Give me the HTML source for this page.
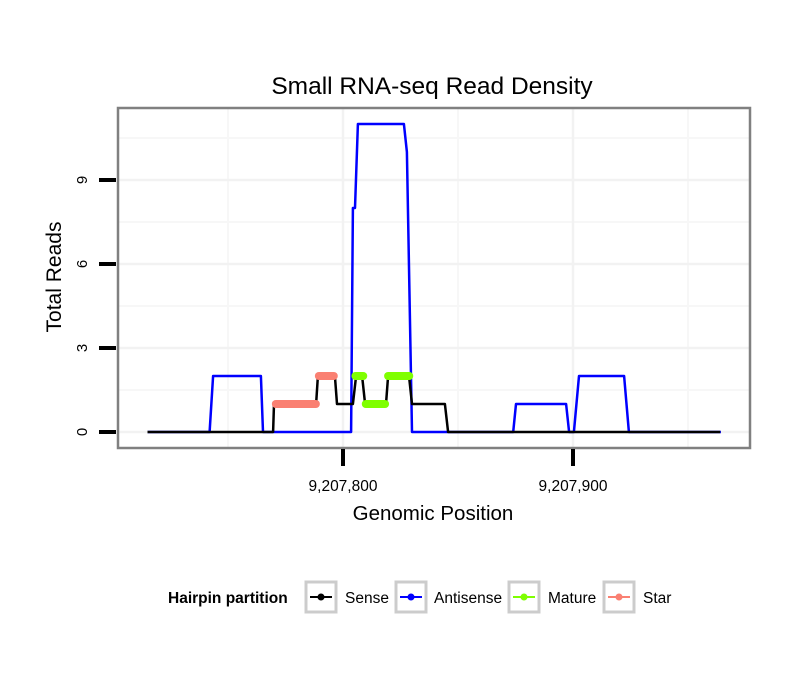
<!DOCTYPE html>
<html><head><meta charset="utf-8">
<style>
html,body{margin:0;padding:0;background:#fff;}
svg{display:block;font-family:"Liberation Sans",Arial,sans-serif;}
</style></head>
<body>
<svg id="chart" width="810" height="690" viewBox="0 0 810 690">
  <rect x="0" y="0" width="810" height="690" fill="#fff"/>
  <text x="432" y="94" font-size="24.5" text-anchor="middle" fill="#000">Small RNA-seq Read Density</text>
  <g id="grid"></g>
  <g id="series"></g>
  <rect x="118" y="108" width="632" height="340" fill="none" stroke="#808080" stroke-width="2.5"/>
  <g id="axes"></g>
  <text x="433" y="520" font-size="20.5" text-anchor="middle">Genomic Position</text>
  <text transform="translate(61,277) rotate(-90)" font-size="21" text-anchor="middle">Total Reads</text>
  <g>
    <text x="168" y="603" font-size="15.5" font-weight="bold">Hairpin partition</text>
    <g>
      <rect x="306" y="582" width="30" height="30" fill="#fff" stroke="#cccccc" stroke-width="3"/>
      <line x1="310" y1="597" x2="332" y2="597" stroke="#000" stroke-width="2"/><circle cx="321" cy="597" r="3.5" fill="#000"/>
      <text x="345" y="603" font-size="15.5">Sense</text>
    </g>
    <g>
      <rect x="396" y="582" width="30" height="30" fill="#fff" stroke="#cccccc" stroke-width="3"/>
      <line x1="400" y1="597" x2="422" y2="597" stroke="#0000ff" stroke-width="2"/><circle cx="411" cy="597" r="3.5" fill="#0000ff"/>
      <text x="434" y="603" font-size="15.5">Antisense</text>
    </g>
    <g>
      <rect x="509" y="582" width="30" height="30" fill="#fff" stroke="#cccccc" stroke-width="3"/>
      <line x1="513" y1="597" x2="535" y2="597" stroke="#7fff00" stroke-width="2"/><circle cx="524" cy="597" r="3.5" fill="#7fff00"/>
      <text x="548" y="603" font-size="15.5">Mature</text>
    </g>
    <g>
      <rect x="604" y="582" width="30" height="30" fill="#fff" stroke="#cccccc" stroke-width="3"/>
      <line x1="608" y1="597" x2="630" y2="597" stroke="#fa8072" stroke-width="2"/><circle cx="619" cy="597" r="3.5" fill="#fa8072"/>
      <text x="643" y="603" font-size="15.5">Star</text>
    </g>
  </g>
</svg>
<script>
const xTicks = [9207800, 9207900];
const xTickLabels = ["9,207,800", "9,207,900"];
const xMinorGrid = [9207750, 9207850, 9207950];
const yTicks = [0, 3, 6, 9];
const yTickLabels = ["0", "3", "6", "9"];
const yMinorGrid = [1.5, 4.5, 7.5, 10.5];

const antisenseX = [9207715,9207742,9207743.5,9207764.3,9207765.2,9207803.5,9207804.3,9207805.2,9207806.5,9207826.5,9207827.8,9207830,9207874,9207875.2,9207897,9207898.3,9207900.4,9207902.6,9207922.2,9207924.3,9207964.3];
const antisenseY = [0,0,2,2,0,0,8,8,11,11,10,0,0,1,1,0,0,2,2,0,0];
const senseX = [9207715,9207769.6,9207770,9207788.3,9207789.1,9207796.5,9207797.4,9207804.3,9207805.7,9207808.3,9207809.6,9207818.7,9207819.6,9207828.7,9207830,9207844.3,9207845.7,9207964];
const senseY = [0,0,1,1,2,2,1,1,2,2,1,1,2,2,1,1,0,0];
const starStart = [9207770.8, 9207789.5];
const starEnd = [9207788.2, 9207796.0];
const starY = [1, 2];
const matureStart = [9207805.4, 9207809.9, 9207819.6];
const matureEnd = [9207808.8, 9207818.3, 9207828.8];
const matureY = [2, 1, 2];

const NS = "http://www.w3.org/2000/svg";
function sx(v){ return 343 + (v - 9207800) * 2.3; }
function sy(v){ return 432 - v * 28; }
function mk(tag, attrs, parent){
  const el = document.createElementNS(NS, tag);
  for (const k in attrs) el.setAttribute(k, attrs[k]);
  parent.appendChild(el);
  return el;
}
const grid = document.getElementById('grid');
const series = document.getElementById('series');
const axes = document.getElementById('axes');

yMinorGrid.forEach(v => {
  const l = mk('line', {x1:119, x2:749, y1:sy(v), y2:sy(v), stroke:'#f7f7f7', 'stroke-width':2}, grid);
  
  
});
xMinorGrid.forEach(v => {
  const l = mk('line', {x1:sx(v), x2:sx(v), y1:109, y2:447, stroke:'#f7f7f7', 'stroke-width':2}, grid);
  
  
});
yTicks.forEach(v => {
  const l = mk('line', {x1:119, x2:749, y1:sy(v), y2:sy(v), stroke:'#f2f2f2', 'stroke-width':2.5}, grid);
  
  
});
xTicks.forEach(v => {
  const l = mk('line', {x1:sx(v), x2:sx(v), y1:109, y2:447, stroke:'#f2f2f2', 'stroke-width':2.5}, grid);
  
  
});

function pathOf(xs, ys){ return xs.map((x,i)=>(i?'L':'M')+sx(x).toFixed(1)+','+sy(ys[i]).toFixed(1)).join(''); }
const pa = mk('path', {d:pathOf(antisenseX, antisenseY), fill:'none', stroke:'#0000ff', 'stroke-width':2.5, 'stroke-linejoin':'round'}, series);


const ps = mk('path', {d:pathOf(senseX, senseY), fill:'none', stroke:'#000', 'stroke-width':2.5, 'stroke-linejoin':'round'}, series);


starStart.forEach((s,i) => {
  const l = mk('line', {x1:sx(s), x2:sx(starEnd[i]), y1:sy(starY[i]), y2:sy(starY[i]), stroke:'#fa8072', 'stroke-width':8, 'stroke-linecap':'round'}, series);
  
  
});
matureStart.forEach((s,i) => {
  const l = mk('line', {x1:sx(s), x2:sx(matureEnd[i]), y1:sy(matureY[i]), y2:sy(matureY[i]), stroke:'#7fff00', 'stroke-width':8, 'stroke-linecap':'round'}, series);
  
  
});

yTicks.forEach((v,i) => {
  const t = mk('line', {x1:99, x2:116, y1:sy(v), y2:sy(v), stroke:'#000', 'stroke-width':4}, axes);
  
  
  const lb = mk('text', {transform:'translate('+87+','+sy(v)+') rotate(-90)', 'font-size':15, 'text-anchor':'middle'}, axes);
  lb.textContent = yTickLabels[i];
  
  
});
xTicks.forEach((v,i) => {
  const t = mk('line', {x1:sx(v), x2:sx(v), y1:449, y2:466, stroke:'#000', 'stroke-width':4}, axes);
  
  
  const lb = mk('text', {x:sx(v), y:491, 'font-size':15.5, 'text-anchor':'middle'}, axes);
  lb.textContent = xTickLabels[i];
  
  
});
</script>
</body></html>
